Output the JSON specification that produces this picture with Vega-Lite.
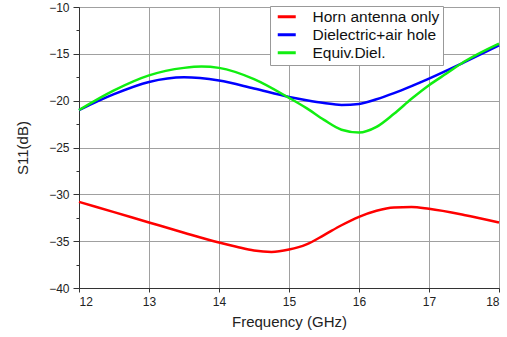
{
  "$schema": "https://vega.github.io/schema/vega-lite/v6.json",
  "width": 420,
  "height": 281,
  "autosize": "none",
  "padding": {"left": 79, "top": 7, "right": 8, "bottom": 49},
  "background": "white",
  "config": {
    "view": {"stroke": "#444", "strokeWidth": 1},
    "font": "Liberation Sans"
  },
  "data": {
    "values": [
      {"f": 12, "s": -30.8, "series": "Horn antenna only"},
      {"f": 12.5, "s": -31.9, "series": "Horn antenna only"},
      {"f": 13, "s": -33.0, "series": "Horn antenna only"},
      {"f": 13.5, "s": -34.1, "series": "Horn antenna only"},
      {"f": 14, "s": -35.15, "series": "Horn antenna only"},
      {"f": 14.25, "s": -35.6, "series": "Horn antenna only"},
      {"f": 14.5, "s": -36.0, "series": "Horn antenna only"},
      {"f": 14.75, "s": -36.15, "series": "Horn antenna only"},
      {"f": 15, "s": -35.9, "series": "Horn antenna only"},
      {"f": 15.25, "s": -35.35, "series": "Horn antenna only"},
      {"f": 15.5, "s": -34.35, "series": "Horn antenna only"},
      {"f": 15.75, "s": -33.3, "series": "Horn antenna only"},
      {"f": 16, "s": -32.4, "series": "Horn antenna only"},
      {"f": 16.25, "s": -31.75, "series": "Horn antenna only"},
      {"f": 16.5, "s": -31.4, "series": "Horn antenna only"},
      {"f": 16.75, "s": -31.35, "series": "Horn antenna only"},
      {"f": 17, "s": -31.55, "series": "Horn antenna only"},
      {"f": 17.5, "s": -32.2, "series": "Horn antenna only"},
      {"f": 18, "s": -33.0, "series": "Horn antenna only"},
      {"f": 12, "s": -21.0, "series": "Dielectric+air hole"},
      {"f": 12.5, "s": -19.3, "series": "Dielectric+air hole"},
      {"f": 13, "s": -18.0, "series": "Dielectric+air hole"},
      {"f": 13.5, "s": -17.5, "series": "Dielectric+air hole"},
      {"f": 14, "s": -17.85, "series": "Dielectric+air hole"},
      {"f": 14.5, "s": -18.7, "series": "Dielectric+air hole"},
      {"f": 15, "s": -19.6, "series": "Dielectric+air hole"},
      {"f": 15.25, "s": -19.95, "series": "Dielectric+air hole"},
      {"f": 15.5, "s": -20.25, "series": "Dielectric+air hole"},
      {"f": 15.75, "s": -20.45, "series": "Dielectric+air hole"},
      {"f": 16, "s": -20.35, "series": "Dielectric+air hole"},
      {"f": 16.25, "s": -19.85, "series": "Dielectric+air hole"},
      {"f": 16.5, "s": -19.2, "series": "Dielectric+air hole"},
      {"f": 16.75, "s": -18.45, "series": "Dielectric+air hole"},
      {"f": 17, "s": -17.65, "series": "Dielectric+air hole"},
      {"f": 17.25, "s": -16.8, "series": "Dielectric+air hole"},
      {"f": 17.5, "s": -15.9, "series": "Dielectric+air hole"},
      {"f": 18, "s": -14.1, "series": "Dielectric+air hole"},
      {"f": 12, "s": -21.0, "series": "Equiv.Diel."},
      {"f": 12.5, "s": -18.9, "series": "Equiv.Diel."},
      {"f": 13, "s": -17.3, "series": "Equiv.Diel."},
      {"f": 13.5, "s": -16.5, "series": "Equiv.Diel."},
      {"f": 13.75, "s": -16.35, "series": "Equiv.Diel."},
      {"f": 14, "s": -16.5, "series": "Equiv.Diel."},
      {"f": 14.5, "s": -17.7, "series": "Equiv.Diel."},
      {"f": 15, "s": -19.7, "series": "Equiv.Diel."},
      {"f": 15.25, "s": -20.8, "series": "Equiv.Diel."},
      {"f": 15.5, "s": -22.05, "series": "Equiv.Diel."},
      {"f": 15.75, "s": -23.1, "series": "Equiv.Diel."},
      {"f": 16, "s": -23.4, "series": "Equiv.Diel."},
      {"f": 16.25, "s": -22.8, "series": "Equiv.Diel."},
      {"f": 16.5, "s": -21.4, "series": "Equiv.Diel."},
      {"f": 16.75, "s": -19.8, "series": "Equiv.Diel."},
      {"f": 17, "s": -18.35, "series": "Equiv.Diel."},
      {"f": 17.25, "s": -17.1, "series": "Equiv.Diel."},
      {"f": 17.5, "s": -15.85, "series": "Equiv.Diel."},
      {"f": 18, "s": -13.9, "series": "Equiv.Diel."}
    ]
  },
  "mark": {"type": "line", "interpolate": "monotone", "strokeWidth": 2.5},
  "encoding": {
    "x": {
      "field": "f",
      "type": "quantitative",
      "scale": {"domain": [12, 18], "nice": false, "zero": false},
      "axis": {
        "title": "Frequency (GHz)",
        "values": [12, 12.5, 13, 13.5, 14, 14.5, 15, 15.5, 16, 16.5, 17, 17.5, 18],
        "format": "d",
        "labelExpr": "datum.value % 1 === 0 ? datum.label : ''",
        "labelFontSize": 12,
        "labelColor": "#222",
        "labelPadding": 4,
        "titleFontSize": 15,
        "titleFontWeight": "normal",
        "titleColor": "#222",
        "titlePadding": 7,
        "tickSize": 4,
        "tickColor": "#333",
        "domainColor": "#333",
        "gridColor": {"condition": {"test": "datum.value % 1 !== 0", "value": "transparent"}, "value": "#a0a0a0"},
        "gridWidth": 1
      }
    },
    "y": {
      "field": "s",
      "type": "quantitative",
      "scale": {"domain": [-40, -10], "nice": false, "zero": false},
      "axis": {
        "title": "S11(dB)",
        "values": [-40, -37.5, -35, -32.5, -30, -27.5, -25, -22.5, -20, -17.5, -15, -12.5, -10],
        "labelExpr": "datum.value % 5 === 0 ? datum.label : ''",
        "labelFontSize": 12,
        "labelColor": "#222",
        "labelPadding": 4,
        "titleFontSize": 15,
        "titleFontWeight": "normal",
        "titleColor": "#222",
        "titlePadding": 18,
        "tickSize": {"condition": {"test": "datum.value % 5 !== 0", "value": 3}, "value": 6},
        "tickColor": "#333",
        "domainColor": "#333",
        "gridColor": {"condition": {"test": "datum.value % 5 !== 0", "value": "transparent"}, "value": "#a0a0a0"},
        "gridWidth": 1
      }
    },
    "color": {
      "field": "series",
      "type": "nominal",
      "scale": {
        "domain": ["Horn antenna only", "Dielectric+air hole", "Equiv.Diel."],
        "range": ["#ff0000", "#0000ff", "#11ee11"]
      },
      "legend": {
        "title": null,
        "orient": "none",
        "legendX": 191,
        "legendY": -1,
        "symbolType": "M-0.5,0H2.5",
        "symbolSize": 144,
        "symbolStrokeWidth": 3,
        "labelFontSize": 15.5,
        "labelColor": "#111",
        "labelOffset": 24,
        "rowPadding": 1,
        "padding": 3,
        "strokeColor": "#999",
        "fillColor": "white",
        "labelLimit": 300
      }
    }
  }
}
